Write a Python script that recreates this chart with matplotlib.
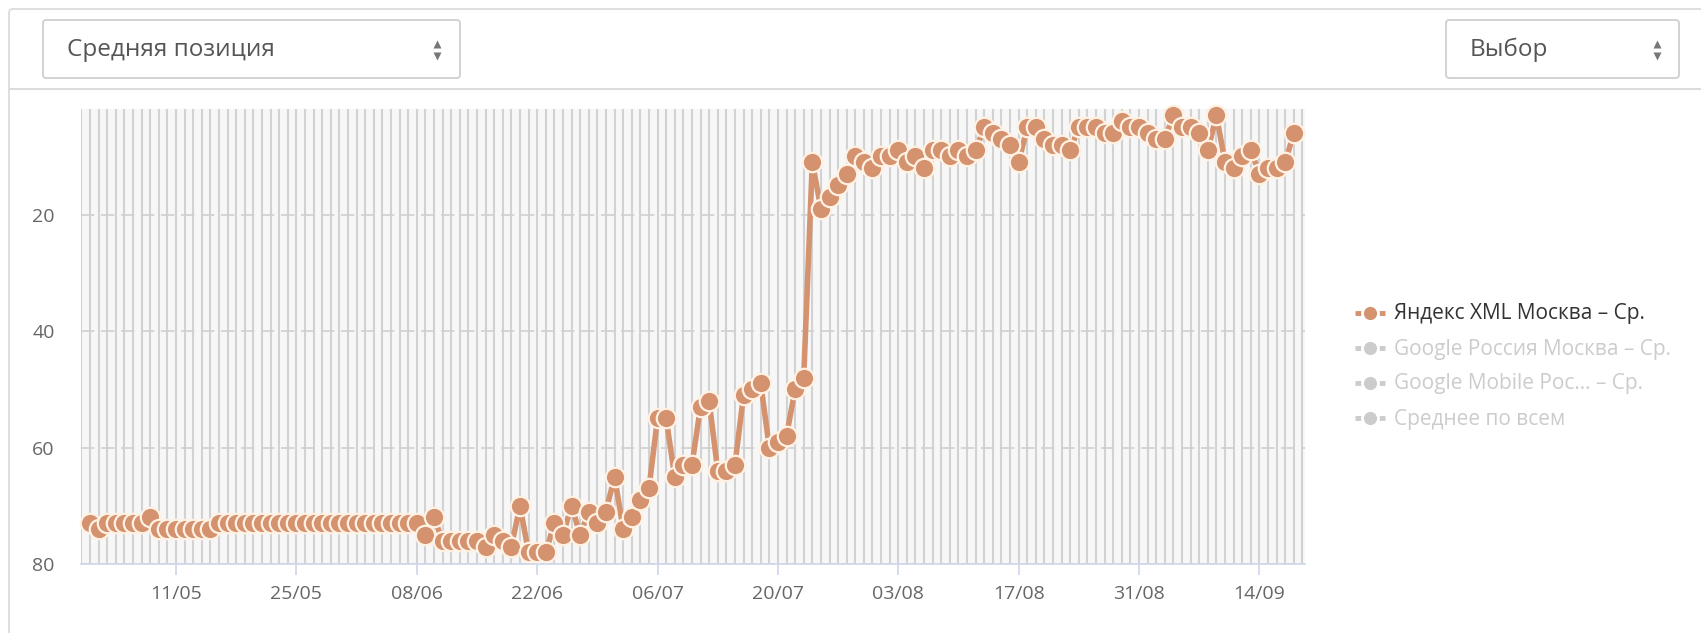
import matplotlib
matplotlib.use("Agg")
import matplotlib.pyplot as plt
import matplotlib.dates as mdates
from matplotlib.patches import FancyBboxPatch
import pandas as pd

plt.rcParams['font.family'] = ['Open Sans', 'DejaVu Sans']

# daily average position, 01/05 .. 18/09
start_date = "2019-05-01"
position = [
    73, 74, 73, 73, 73, 73, 73, 72, 74, 74,
    74, 74, 74, 74, 74, 73, 73, 73, 73, 73,
    73, 73, 73, 73, 73, 73, 73, 73, 73, 73,
    73, 73, 73, 73, 73, 73, 73, 73, 73, 75,
    72, 76, 76, 76, 76, 76, 77, 75, 76, 77,
    70, 78, 78, 78, 73, 75, 70, 75, 71, 73,
    71, 65, 74, 72, 69, 67, 55, 55, 65, 63,
    63, 53, 52, 64, 64, 63, 51, 50, 49, 60,
    59, 58, 50, 48, 11, 19, 17, 15, 13, 10,
    11, 12, 10, 10, 9, 11, 10, 12, 9, 9,
    10, 9, 10, 9, 5, 6, 7, 8, 11, 5,
    5, 7, 8, 8, 9, 5, 5, 5, 6, 6,
    4, 5, 5, 6, 7, 7, 3, 5, 5, 6,
    9, 3, 11, 12, 10, 9, 13, 12, 12, 11,
    6,
]
tick_labels = ["11/05", "25/05", "08/06", "22/06", "06/07",
               "20/07", "03/08", "17/08", "31/08", "14/09"]
y_ticks = [20, 40, 60, 80]
legend_labels = ["Яндекс XML Москва – Ср.", "Google Россия Москва – Ср.",
                 "Google Mobile Рос... – Ср.", "Среднее по всем"]
legend_active = [True, False, False, False]

line_color = "#d4926f"
dates = pd.date_range(start_date, periods=len(position), freq="D")
year = dates[0].year
tick_dates = [pd.Timestamp(f"{year}-{t[3:]}-{t[:2]}") for t in tick_labels]

W, H = 1701, 633
fig = plt.figure(figsize=(W / 100, H / 100), dpi=100)

# background layer in pixel coordinates (header boxes, legend)
bg = fig.add_axes([0, 0, 1, 1], zorder=0)
bg.set_xlim(0, W)
bg.set_ylim(H, 0)
bg.axis("off")

bg.add_patch(FancyBboxPatch((9, 9), W + 20, H + 20, boxstyle="round,pad=0,rounding_size=4",
                            fc="none", ec="#dcdcdc", lw=1.3))
bg.plot([9, W], [89, 89], color="#dcdcdc", lw=1.5)

for x0, x1, label, arrow_x in [(43, 460, "Средняя позиция", 437), (1446, 1679, "Выбор", 1657)]:
    bg.add_patch(FancyBboxPatch((x0, 20), x1 - x0, 58, boxstyle="round,pad=0,rounding_size=3",
                                fc="white", ec="#cfcfcf", lw=1.3))
    bg.text(x0 + 24, 50, label, fontsize=17.5, color="#555555", va="center", ha="left")
    bg.plot(arrow_x, 44, marker="^", ms=6, color="#777777", mec="none")
    bg.plot(arrow_x, 56, marker="v", ms=6, color="#777777", mec="none")

for k, (label, active) in enumerate(zip(legend_labels, legend_active)):
    yy = 313 + k * 35
    c = line_color if active else "#cccccc"
    bg.plot([1355, 1385], [yy, yy], color=c, lw=3.5, solid_capstyle="butt")
    bg.plot(1370, yy, marker="o", ms=11.5, color=c, mec="white", mew=2)
    bg.text(1394, yy + 1, label, fontsize=15, color="#333333" if active else "#cccccc",
            va="center", ha="left")

# main chart
ax = fig.add_axes([81 / W, 1 - 564 / H, (1305 - 81) / W, (564 - 108.5) / H], zorder=1)
ax.set_facecolor("#f7f7f7")

ax.plot(dates, position, color=line_color, lw=4, marker="o", ms=14,
        mfc=line_color, mec="#fff2e4", mew=1.6, zorder=3, clip_on=False)

ax.set_xlim(dates[0] - pd.Timedelta(days=1.05), dates[-1] + pd.Timedelta(days=1.3))
ax.set_ylim(80, 1.8)

ax.set_xticks(tick_dates)
ax.set_xticklabels(tick_labels)
ax.xaxis.set_minor_locator(mdates.DayLocator())
ax.set_yticks(y_ticks)

ax.grid(True, which="both", axis="x", color="#d2d2d2", lw=1.5, zorder=0)
ax.grid(True, which="major", axis="y", color="#d0d0d0", lw=1.2, ls=(0, (8, 4)), zorder=0)
ax.set_axisbelow(True)

for side in ["top", "right", "left"]:
    ax.spines[side].set_visible(False)
ax.spines["bottom"].set_color("#ccd6eb")
ax.spines["bottom"].set_linewidth(1.2)

ax.tick_params(axis="x", which="major", length=8, width=1.2, color="#ccd6eb",
               labelsize=14, labelcolor="#666666", pad=7)
ax.tick_params(axis="x", which="minor", length=0)
ax.tick_params(axis="y", length=0, labelsize=14, labelcolor="#666666", pad=19)

fig.savefig("out.png", dpi=100, facecolor="white")
